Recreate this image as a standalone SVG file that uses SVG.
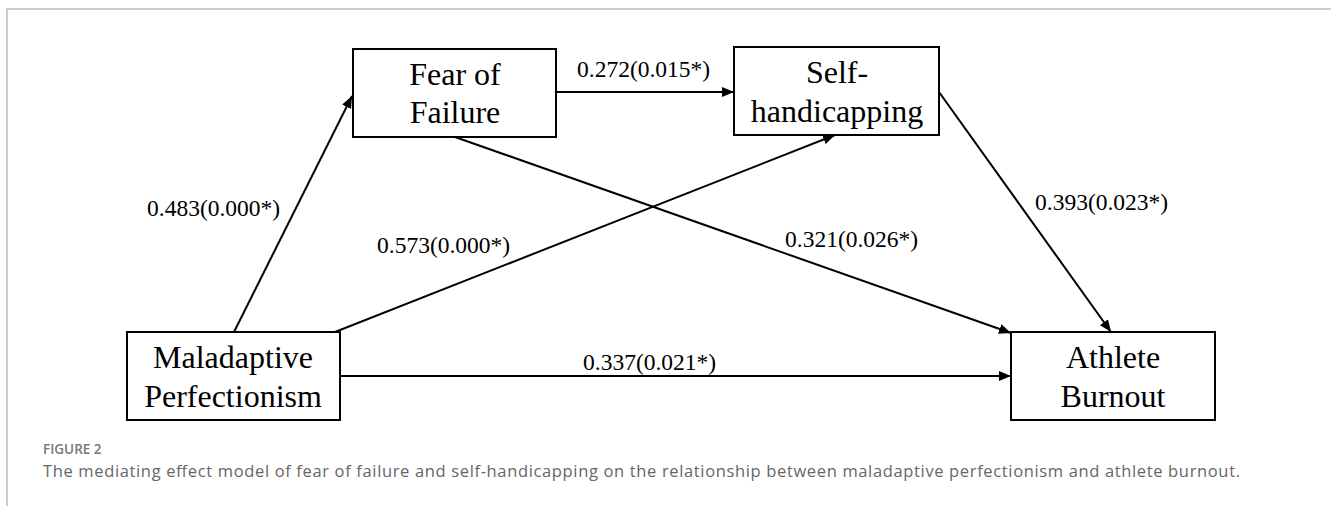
<svg xmlns="http://www.w3.org/2000/svg" width="1331" height="506" viewBox="0 0 1331 506">
<style>
.box{fill:#fff;stroke:#000;stroke-width:2}
.nt{font-family:"Liberation Serif",serif;font-size:32px;fill:#000;text-anchor:middle}
.lb{font-family:"Liberation Serif",serif;font-size:23.5px;fill:#000}
.edge{stroke:#000;stroke-width:2;fill:none;marker-end:url(#ah)}
.frame{stroke:#bdbdbd;stroke-width:1.5;fill:none}
.cap1{font-family:"Open Sans",sans-serif;font-size:13.5px;font-weight:600;fill:#777}
.cap2{font-family:"Open Sans",sans-serif;font-size:16.5px;fill:#666}
</style>
<defs>
<marker id="ah" viewBox="0 0 12 10" refX="12" refY="5" markerWidth="12" markerHeight="10" markerUnits="userSpaceOnUse" orient="auto">
<path d="M0,0 L12,5 L0,10 z" fill="#000"/>
</marker>
</defs>
<rect width="1331" height="506" fill="#fff"/>
<path class="frame" d="M7,506 L7,9 L1331,9"/>
<g id="connectors">
<line class="edge" x1="556" y1="92" x2="734" y2="92"/>
<line class="edge" x1="234" y1="332" x2="352" y2="96"/>
<line class="edge" x1="335" y1="332" x2="835" y2="135"/>
<line class="edge" x1="455" y1="137" x2="1011" y2="333"/>
<line class="edge" x1="939" y1="92" x2="1111" y2="332"/>
<line class="edge" x1="340" y1="376" x2="1011" y2="376"/>
<text class="lb" x="577" y="77">0.272(0.015*)</text>
<text class="lb" x="147" y="216">0.483(0.000*)</text>
<text class="lb" x="377" y="253">0.573(0.000*)</text>
<text class="lb" x="785" y="247">0.321(0.026*)</text>
<text class="lb" x="1035" y="210">0.393(0.023*)</text>
<text class="lb" x="583" y="370">0.337(0.021*)</text>
</g>
<g id="fear">
<rect class="box" x="353" y="49" width="203" height="88"/>
<text class="nt" x="455" y="85">Fear of</text>
<text class="nt" x="455" y="123">Failure</text>
</g>
<g id="self">
<rect class="box" x="734" y="47" width="205" height="88"/>
<text class="nt" x="837" y="83">Self-</text>
<text class="nt" x="837" y="122">handicapping</text>
</g>
<g id="mal">
<rect class="box" x="127" y="332" width="213" height="88"/>
<text class="nt" x="233" y="368">Maladaptive</text>
<text class="nt" x="233" y="407">Perfectionism</text>
</g>
<g id="ath">
<rect class="box" x="1011" y="332" width="204" height="88"/>
<text class="nt" x="1113" y="368">Athlete</text>
<text class="nt" x="1113" y="407">Burnout</text>
</g>
<text class="cap1" x="43" y="454">FIGURE 2</text>
<text class="cap2" x="43" y="477" textLength="1197" lengthAdjust="spacing">The mediating effect model of fear of failure and self-handicapping on the relationship between maladaptive perfectionism and athlete burnout.</text>
</svg>
